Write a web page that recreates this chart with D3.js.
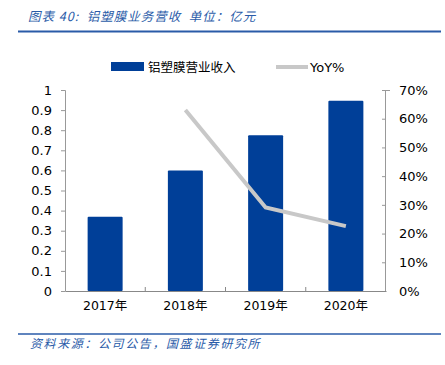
<!DOCTYPE html>
<html>
<head>
<meta charset="utf-8">
<script src="https://cdn.jsdelivr.net/npm/d3@7"></script>
<style>
  body { margin: 0; background: #fff; }
  svg { display: block; font-family: "Liberation Sans", "Noto Sans CJK SC", sans-serif; }
</style>
</head>
<body>
<div id="chart"></div>
<script>
// data
const years = ['2017年', '2018年', '2019年', '2020年'];
const revenue = [0.37, 0.60, 0.775, 0.947];
const yoy = [null, 0.63, 0.291, 0.226];
const leftTicks = [0, 0.1, 0.2, 0.3, 0.4, 0.5, 0.6, 0.7, 0.8, 0.9, 1];
const rightTicks = [0, 0.1, 0.2, 0.3, 0.4, 0.5, 0.6, 0.7];

const W = 445, H = 365;
const blue = '#003f98';
const lineGray = '#c8c8c8';
const headBlue = '#2a5ba8';
const cjk = '"Noto Sans CJK SC", sans-serif';

const svg = d3.select('#chart').append('svg')
    .attr('width', W)
    .attr('height', H);

// header
svg.append('text')
    .attr('x', 28).attr('y', 21)
    .attr('fill', headBlue)
    .style('font-style', 'italic')
    .style('font-size', '12.5px')
    .style('letter-spacing', '1px')
    .style('white-space', 'pre')
    .style('font-family', cjk)
    .text('图表 40:  铝塑膜业务营收  单位：亿元');
svg.append('line')
    .attr('x1', 18).attr('x2', 441).attr('y1', 31.5).attr('y2', 31.5)
    .attr('stroke', headBlue).attr('stroke-width', 2);

// footer
svg.append('line')
    .attr('x1', 18).attr('x2', 441).attr('y1', 334).attr('y2', 334)
    .attr('stroke', headBlue).attr('stroke-width', 1.5);
svg.append('text')
    .attr('x', 30).attr('y', 348)
    .attr('fill', headBlue)
    .style('font-style', 'italic')
    .style('font-size', '12px')
    .style('letter-spacing', '1.6px')
    .style('font-family', cjk)
    .text('资料来源：公司公告，国盛证券研究所');

// scales
const x = d3.scaleBand().domain(years).range([65, 386]).paddingInner(0).paddingOuter(0);
const yL = d3.scaleLinear().domain([0, 1]).range([291, 90]);
const yR = d3.scaleLinear().domain([0, 0.7]).range([291, 90]);
const barW = 35;

// axes
const axL = svg.append('g')
    .attr('transform', 'translate(65,0)')
    .call(d3.axisLeft(yL).tickValues(leftTicks).tickSize(4).tickPadding(9)
        .tickFormat(d => d3.format('')(+d.toFixed(1))));
const axR = svg.append('g')
    .attr('transform', 'translate(386,0)')
    .call(d3.axisRight(yR).tickValues(rightTicks).tickSize(4).tickPadding(9)
        .tickFormat(d3.format('.0%')));
[axL, axR].forEach(a => {
  a.select('.domain').attr('stroke', '#999');
  a.selectAll('.tick line').attr('stroke', '#999');
  a.selectAll('text').attr('fill', '#000').style('font-size', '13px')
      .style('font-family', '"DejaVu Sans", sans-serif');
});
axL.select('.domain').attr('d', 'M-4,90.5H0.5V291.5');
axR.select('.domain').attr('d', 'M4,90.5H-0.5V291.5');
axL.selectAll('.tick line').attr('x1', -4).attr('x2', 0);
axR.selectAll('.tick line').attr('x1', -4).attr('x2', 0);

// bars
svg.append('g').selectAll('rect')
    .data(revenue)
    .enter().append('rect')
    .attr('x', (d, i) => x(years[i]) + x.bandwidth() / 2 - barW / 2)
    .attr('y', d => yL(d))
    .attr('width', barW)
    .attr('height', d => yL(0) - yL(d))
    .attr('rx', 1)
    .attr('fill', blue);

// bottom axis
const axB = svg.append('g')
    .attr('transform', 'translate(0,291)')
    .call(d3.axisBottom(x).tickSize(0).tickPadding(10));
axB.select('.domain').attr('stroke', '#888');
axB.selectAll('text').attr('fill', '#000').style('font-size', '12.5px')
    .style('font-family', '"DejaVu Sans", "Noto Sans CJK SC", sans-serif');
// category separators
axB.selectAll('.sep')
    .data(years.slice(1))
    .enter().append('line')
    .attr('x1', d => x(d)).attr('x2', d => x(d))
    .attr('y1', 0).attr('y2', -4)
    .attr('stroke', '#888');

// yoy line
const line = d3.line()
    .defined(d => d.v != null)
    .x(d => x(d.k) + x.bandwidth() / 2)
    .y(d => yR(d.v));
svg.append('path')
    .datum(years.map((k, i) => ({ k: k, v: yoy[i] })))
    .attr('d', line)
    .attr('fill', 'none')
    .attr('stroke', lineGray)
    .attr('stroke-width', 4);

// legend
svg.append('rect')
    .attr('x', 111).attr('y', 62).attr('width', 33).attr('height', 9)
    .attr('fill', blue);
svg.append('text')
    .attr('x', 148).attr('y', 71.5)
    .style('font-size', '12.5px')
    .style('font-family', cjk)
    .text('铝塑膜营业收入');
svg.append('line')
    .attr('x1', 276).attr('x2', 308).attr('y1', 67).attr('y2', 67)
    .attr('stroke', lineGray).attr('stroke-width', 4);
svg.append('text')
    .attr('x', 310).attr('y', 72)
    .style('font-size', '13px')
    .style('font-family', '"DejaVu Sans", sans-serif')
    .text('YoY%');
</script>
</body>
</html>
